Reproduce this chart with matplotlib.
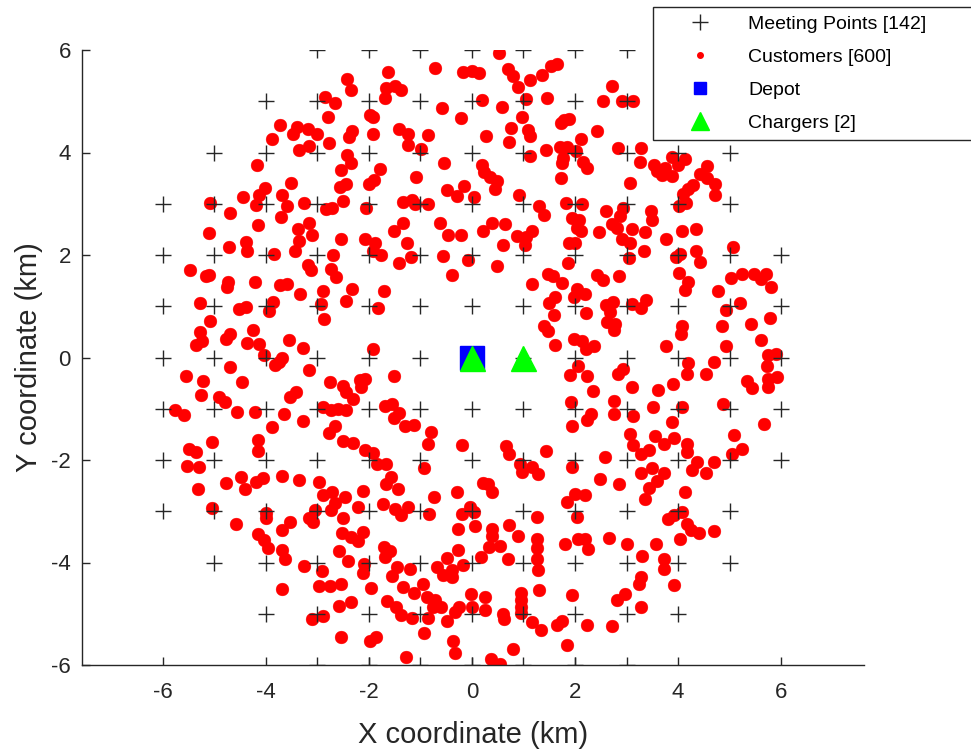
import matplotlib
matplotlib.use("Agg")
import matplotlib.pyplot as plt
from matplotlib.lines import Line2D

plt.rcParams['font.family'] = ['Liberation Sans', 'DejaVu Sans']
plt.rcParams['axes.unicode_minus'] = False

# ---------------- data ----------------
# meeting points: x positions of the grid for each row y
mp_rows_y = [6, 5, 4, 3, 2, 1, 0, -1, -2, -3, -4, -5, -6]
mp_rows_x = [
    [-3, -2, -1, 0, 1, 2, 3],
    [-4, -3, -2, -1, 0, 1, 2, 3, 4],
    [-5, -4, -3, -2, -1, 0, 1, 2, 3, 4, 5],
    [-6, -5, -4, -3, -2, -1, 0, 1, 2, 3, 4, 5],
    [-6, -5, -4, -3, -2, -1, 0, 1, 2, 3, 4, 5, 6],
    [-6, -5, -4, -3, -2, -1, 0, 1, 2, 3, 4, 5, 6],
    [-6, -5, -4, -3, -2, -1, 1, 2, 3, 4, 5, 6],
    [-6, -5, -4, -3, -2, -1, 0, 1, 2, 3, 4, 5, 6],
    [-6, -5, -4, -3, -2, -1, 0, 1, 2, 3, 4, 5, 6],
    [-6, -5, -4, -3, -2, -1, 0, 1, 2, 3, 4, 5],
    [-5, -4, -3, -2, -1, 0, 1, 2, 3, 4, 5],
    [-4, -3, -2, -1, 0, 1, 2, 3, 4],
    [-3, -2, -1, 0, 1, 2, 3],
]

customers = [
    # upper-left
    (-3.73,4.54),(-3.39,4.49),(-3.47,4.37),(-3.88,4.27),(-3.35,4.05),(-4.18,3.76),(-3.52,3.40),(-4.02,3.30),
    (-4.14,3.17),(-4.45,3.14),(-3.68,3.17),(-5.09,3.02),(-4.20,2.98),(-3.60,2.96),(-3.26,3.01),(-4.70,2.81),
    (-3.70,2.75),(-4.15,2.58),(-5.10,2.42),(-3.37,2.50),(-3.35,2.27),(-4.38,2.26),(-4.71,2.15),
    # upper centre-left
    (-0.72,5.64),(-0.17,5.58),(-2.43,5.43),(-1.63,5.57),(-2.34,5.22),(-1.66,5.25),(-1.50,5.30),(-1.37,5.22),
    (-1.68,5.06),(-2.86,5.08),(-2.66,4.97),(-0.58,4.87),(-0.21,4.68),(-1.97,4.73),(-1.92,4.69),(-2.79,4.69),
    (-3.18,4.45),(-3.00,4.36),(-3.17,4.13),(-2.77,4.19),(-2.32,4.41),(-2.39,4.31),(-1.92,4.36),(-1.42,4.45),
    (-1.25,4.36),(-1.25,4.15),(-0.86,4.34),(-0.98,4.06),(-2.43,3.95),(-2.35,3.79),(-2.55,3.66),(-1.79,3.68),
    (-1.90,3.46),(-1.99,3.38),(-2.45,3.39),(-2.56,3.33),(-1.09,3.53),(-0.54,3.79),(-0.49,3.26),(-0.30,3.16),
    (-0.15,3.35),(-2.84,2.90),(-2.71,2.91),(-2.50,3.05),(-2.05,2.91),(-1.33,3.04),(-1.17,3.07),(-1.11,2.99),
    (-0.85,2.99),(-3.17,2.63),(-3.11,2.39),(-1.33,2.62),(-1.51,2.47),(-0.62,2.63),(-0.46,2.40),(-0.21,2.40),
    (-2.55,2.31),(-2.08,2.32),(-1.88,2.23),(-1.27,2.23),
    # upper centre-right
    (0.52,5.95),(0.01,5.60),(0.14,5.56),(0.70,5.62),(0.79,5.49),(0.89,5.27),(1.13,5.42),(1.35,5.51),
    (1.53,5.69),(1.66,5.73),(2.71,5.30),(0.20,5.02),(0.59,4.89),(1.05,5.04),(1.46,5.06),(2.54,5.01),
    (2.91,5.01),(3.13,5.01),(0.98,4.70),(1.72,4.57),(1.79,4.63),(1.89,4.65),(0.75,4.47),(1.08,4.44),
    (1.13,4.33),(0.27,4.32),(0.71,4.20),(2.42,4.41),(2.12,4.26),(1.44,4.05),(1.71,4.11),(1.84,4.10),
    (2.02,4.03),(1.13,3.93),(1.77,3.89),(1.74,3.79),(2.16,3.82),(2.23,3.69),(2.84,4.08),(0.19,3.76),
    (0.23,3.61),(0.35,3.53),(0.48,3.45),(0.45,3.28),(1.72,3.50),(3.06,3.41),(0.04,3.14),(0.92,3.18),
    (1.30,2.96),(1.39,2.78),(1.83,3.01),(2.13,2.99),(2.61,2.86),(2.93,2.92),(2.87,2.77),(2.71,2.60),
    (2.81,2.52),(2.47,2.44),(3.10,2.50),(2.91,2.31),(1.94,2.72),(2.08,2.68),(2.03,2.52),(2.11,2.46),
    (0.38,2.63),(0.22,2.47),(0.64,2.60),(0.87,2.38),(1.05,2.36),(1.16,2.47),(0.60,2.20),(1.03,2.20),
    (1.89,2.23),(2.00,2.24),(3.07,2.23),
    # upper-right
    (3.28,4.08),(3.26,3.82),(3.88,3.92),(3.99,3.76),(4.14,3.87),(3.53,3.76),(3.59,3.63),(3.75,3.69),
    (3.68,3.56),(3.88,3.54),(4.56,3.74),(4.43,3.59),(4.56,3.50),(4.72,3.39),(4.30,3.37),(4.20,3.28),
    (4.10,3.20),(4.71,3.17),(4.15,3.02),(4.01,2.96),(3.47,2.86),(3.49,2.68),(3.36,2.44),(4.07,2.47),
    (4.34,2.50),(3.76,2.31),(5.07,2.16),
    # middle-left
    (-4.36,2.07),(-3.84,2.01),(-3.44,2.07),(-5.48,1.71),(-5.17,1.59),(-5.10,1.61),(-4.73,1.48),(-4.75,1.38),
    (-4.21,1.48),(-3.73,1.42),(-3.60,1.43),(-3.34,1.23),(-5.28,1.07),(-4.52,0.94),(-4.38,0.99),(-3.87,1.09),
    (-3.94,0.91),(-5.09,0.72),(-5.28,0.50),(-5.25,0.33),(-5.36,0.24),(-4.78,0.37),(-4.69,0.46),(-4.26,0.54),
    (-4.36,0.28),(-4.13,0.26),(-3.55,0.34),(-3.28,0.19),(-4.04,0.04),(-3.68,0.00),(-3.74,-0.08),(-3.83,-0.15),
    (-4.70,-0.18),(-5.55,-0.37),(-5.22,-0.46),(-4.47,-0.48),(-5.26,-0.74),(-4.91,-0.78),(-4.80,-0.87),(-3.53,-0.78),
    (-3.42,-0.68),(-5.77,-1.02),(-5.59,-1.12),(-4.56,-1.07),(-4.21,-1.07),(-3.65,-1.11),(-3.28,-1.24),(-3.88,-1.35),
    (-5.04,-1.64),(-5.49,-1.79),(-5.35,-1.85),(-4.15,-1.61),(-4.15,-1.82),
    # middle centre-left
    (-2.69,2.00),(-1.92,2.07),(-1.77,2.00),(-3.18,1.81),(-3.13,1.71),(-2.73,1.72),(-2.63,1.58),(-1.41,1.84),
    (-1.18,1.97),(-0.56,1.98),(-0.39,1.61),(-0.08,1.90),(-2.90,1.30),(-2.32,1.34),(-2.45,1.11),(-1.71,1.29),
    (-2.93,1.04),(-1.82,0.96),(-2.87,0.76),(-1.92,0.16),(-3.17,-0.24),(-2.76,-0.47),(-2.51,-0.56),(-2.45,-0.67),
    (-2.30,-0.80),(-2.18,-0.44),(-2.07,-0.41),(-2.16,-0.57),(-1.52,-0.36),(-2.89,-0.97),(-2.73,-1.02),(-2.60,-1.01),
    (-2.45,-1.02),(-1.69,-0.95),(-1.56,-0.91),(-1.42,-1.09),(-1.51,-1.19),(-1.30,-1.33),(-1.12,-1.32),(-2.65,-1.34),
    (-2.77,-1.48),(-0.80,-1.46),(-0.85,-1.68),(-0.20,-1.71),(-2.50,-1.63),(-2.30,-1.66),(-2.08,-1.80),(-1.92,-1.87),
    # middle centre-right
    (0.48,1.79),(1.16,1.43),(1.47,1.63),(1.57,1.59),(1.74,1.46),(1.86,1.84),(2.42,1.61),(2.55,1.51),
    (2.86,1.59),(3.04,1.95),(1.61,1.19),(1.50,1.06),(2.03,1.33),(1.99,1.19),(2.19,1.24),(2.21,0.86),
    (1.60,0.83),(2.60,1.03),(2.73,1.09),(2.67,0.89),(3.10,1.04),(2.63,0.70),(2.78,0.65),(2.76,0.54),
    (1.40,0.61),(1.48,0.52),(1.62,0.24),(1.99,0.37),(2.13,0.33),(2.21,0.17),(2.36,0.23),(2.06,-0.17),
    (1.90,-0.34),(2.24,-0.37),(2.83,-0.32),(2.94,-0.22),(3.10,-0.58),(2.34,-0.65),(1.93,-0.86),(2.76,-0.85),
    (2.32,-1.11),(2.23,-1.21),(2.76,-1.11),(1.95,-1.34),(3.13,-1.14),(3.07,-1.50),(3.13,-1.71),(0.67,-1.73),
    (0.72,-1.88),(1.44,-1.82),(2.58,-1.94),
    # middle-right
    (3.33,2.07),(3.97,1.97),(4.04,2.02),(4.35,2.07),(4.43,1.87),(4.01,1.64),(4.20,1.48),(4.14,1.32),
    (4.77,1.30),(5.02,1.55),(5.24,1.63),(5.48,1.63),(5.61,1.53),(5.71,1.63),(5.81,1.38),(3.37,1.12),
    (3.29,0.96),(4.93,0.93),(5.20,1.06),(5.79,0.78),(4.07,0.62),(4.06,0.45),(4.86,0.62),(5.41,0.65),
    (5.61,0.34),(3.76,0.23),(4.93,0.23),(4.19,-0.11),(4.17,-0.32),(4.70,-0.08),(4.54,-0.33),(5.75,0.04),
    (5.90,0.06),(5.72,-0.17),(5.74,-0.41),(5.92,-0.39),(5.33,-0.46),(5.44,-0.59),(5.74,-0.57),(3.91,-0.52),
    (3.61,-0.63),(4.07,-0.96),(3.52,-0.97),(4.88,-0.91),(3.89,-1.25),(5.66,-1.30),(3.55,-1.53),(3.93,-1.58),
    (3.73,-1.69),(4.17,-1.68),(4.17,-1.85),(5.09,-1.51),(5.25,-1.79),(5.04,-1.88),(3.44,-1.80),(3.29,-1.88),
    # lower-left
    (-5.53,-2.12),(-5.30,-2.13),(-5.31,-2.57),(-4.78,-2.44),(-4.49,-2.33),(-4.41,-2.57),(-4.19,-2.42),(-4.05,-2.36),
    (-3.68,-2.31),(-3.35,-2.39),(-5.04,-2.94),(-4.58,-3.24),(-4.00,-3.03),(-4.00,-3.14),(-3.53,-3.20),(-3.68,-3.37),
    (-4.15,-3.44),(-4.04,-3.57),(-3.95,-3.72),(-3.68,-3.76),(-3.62,-3.94),(-3.26,-4.06),(-3.68,-4.52),
    # lower centre-left
    (-1.85,-2.07),(-1.66,-2.07),(-0.93,-2.16),(-2.97,-2.42),(-1.67,-2.46),(-1.57,-2.33),(-1.44,-2.57),(-2.11,-2.60),
    (-2.89,-2.68),(-2.71,-2.62),(-2.47,-2.73),(-2.65,-2.83),(-2.73,-2.98),(-2.21,-2.92),(-1.72,-2.86),(-1.50,-2.96),
    (-1.38,-3.07),(-1.24,-2.91),(-0.74,-2.73),(-0.84,-3.05),(-0.30,-2.62),(-3.17,-3.14),(-3.05,-2.98),(-3.08,-3.20),
    (-2.50,-3.14),(-0.20,-3.06),(-0.28,-3.35),(-2.52,-3.42),(-2.34,-3.51),(-2.22,-3.59),(-2.11,-3.40),(-2.58,-3.77),
    (-2.41,-3.98),(-2.91,-4.17),(-1.71,-3.70),(-1.59,-3.77),(-1.69,-3.89),(-2.09,-4.03),(-2.11,-4.21),(-1.46,-4.09),
    (-1.55,-4.26),(-1.20,-4.13),(-1.33,-4.47),(-1.12,-4.59),(-0.96,-4.42),(-2.97,-4.45),(-2.76,-4.45),(-2.54,-4.42),
    (-1.96,-4.49),(-0.48,-3.92),(-0.28,-3.76),(-0.67,-4.09),(-0.56,-4.24),(-0.39,-4.15),(-0.39,-4.28),(-0.17,-4.05),
    (-2.58,-4.84),(-2.34,-4.78),(-3.10,-5.11),(-2.89,-5.04),(-1.64,-4.75),(-1.48,-4.86),(-1.37,-5.02),(-1.16,-5.09),
    (-0.88,-4.68),(-0.71,-4.73),(-0.75,-4.86),(-0.60,-4.86),(-0.85,-5.09),(-0.49,-5.14),(-0.33,-4.96),(-0.25,-4.86),
    (-2.54,-5.45),(-1.98,-5.53),(-1.87,-5.45),(-0.93,-5.38),(-0.36,-5.53),(-0.33,-5.77),(-1.28,-5.84),
    # lower centre-right
    (0.93,-2.08),(0.98,-2.23),(1.16,-2.13),(1.29,-2.27),(1.94,-2.14),(0.22,-2.44),(0.32,-2.47),(0.38,-2.63),
    (2.49,-2.37),(2.85,-2.47),(1.85,-2.81),(2.00,-2.66),(2.19,-2.68),(-0.04,-2.91),(0.03,-3.01),(0.06,-3.29),
    (1.27,-3.11),(2.03,-3.11),(0.72,-3.27),(0.38,-3.35),(0.38,-3.48),(0.89,-3.48),(0.54,-3.67),(0.34,-3.70),
    (0.17,-3.89),(0.69,-3.94),(1.27,-3.54),(1.27,-3.72),(1.26,-3.94),(1.29,-4.15),(1.81,-3.64),(2.05,-3.54),
    (2.19,-3.54),(2.26,-3.74),(2.66,-3.53),(3.00,-3.63),(-0.01,-4.61),(0.01,-4.86),(0.25,-4.68),(0.25,-4.93),
    (0.96,-4.59),(0.96,-4.73),(0.96,-4.86),(0.96,-4.98),(0.61,-5.00),(0.62,-5.11),(1.31,-4.54),(1.95,-4.63),
    (2.81,-4.73),(2.98,-4.61),(1.16,-5.17),(1.34,-5.32),(1.66,-5.22),(1.74,-5.14),(2.24,-5.21),(2.71,-5.24),
    (1.84,-5.61),(0.79,-5.69),(0.36,-5.88),(0.54,-5.98),
    # lower-right
    (4.36,-2.03),(4.70,-2.03),(3.29,-2.25),(3.50,-2.16),(3.73,-2.26),(4.27,-2.20),(4.54,-2.25),(3.59,-2.40),
    (3.44,-2.55),(3.35,-2.76),(4.14,-2.62),(3.81,-3.15),(3.93,-3.07),(4.07,-3.02),(4.17,-3.24),(4.25,-3.37),
    (4.41,-3.43),(4.69,-3.38),(4.04,-3.55),(3.57,-3.64),(3.31,-3.87),(3.73,-3.93),(3.73,-4.13),(3.29,-4.29),
    (3.24,-4.42),(3.93,-4.44),(3.29,-4.86),
]
cust_x = [p[0] for p in customers]
cust_y = [p[1] for p in customers]

depot_x, depot_y = [0], [0]
charger_x = [0, 1]
charger_y = [0, 0]

legend_labels = ['Meeting Points [142]', 'Customers [600]', 'Depot', 'Chargers [2]']

# ---------------- figure ----------------
fig = plt.figure(figsize=(9.71, 7.51), dpi=100)
ax = fig.add_axes([82/971, 86/751, (864-82)/971, (665-50)/751])

mp_x = [x for xs, y in zip(mp_rows_x, mp_rows_y) for x in xs]
mp_y = [y for xs, y in zip(mp_rows_x, mp_rows_y) for x in xs]

ax.plot(cust_x, cust_y, linestyle='none', marker='o', markersize=9.2,
        markerfacecolor='#ff0000', markeredgecolor='#ff0000', markeredgewidth=0.3, zorder=2)
ax.plot(mp_x, mp_y, linestyle='none', marker='+', markersize=11.5,
        color='#262626', markeredgewidth=1.0, zorder=3)
ax.plot(depot_x, depot_y, linestyle='none', marker='s', markersize=17,
        color='#0000ff', zorder=4)
ax.plot(charger_x, charger_y, linestyle='none', marker='^', markersize=18,
        color='#00ff00', zorder=5)

ax.set_xlim(-7.57, 7.61)
ax.set_ylim(-6, 6)
ax.set_xticks([-6, -4, -2, 0, 2, 4, 6])
ax.set_yticks([-6, -4, -2, 0, 2, 4, 6])
ax.tick_params(axis='both', direction='in', length=6, width=1.0, labelsize=16,
               colors='#262626', labelcolor='#262626')
ax.tick_params(axis='x', pad=12)
ax.tick_params(axis='y', pad=8)
for s in ['top', 'right']:
    ax.spines[s].set_visible(False)
for s in ['left', 'bottom']:
    ax.spines[s].set_color('#262626')
    ax.spines[s].set_linewidth(1.0)
ax.set_xlabel('X coordinate (km)', fontsize=21, color='#262626', labelpad=13)
ax.set_ylabel('Y coordinate (km)', fontsize=21, color='#262626', labelpad=6)

handles = [
    Line2D([], [], linestyle='none', marker='+', markersize=11.5, color='#262626', markeredgewidth=1.0),
    Line2D([], [], linestyle='none', marker='o', markersize=4, color='#ff0000'),
    Line2D([], [], linestyle='none', marker='s', markersize=9, color='#0000ff'),
    Line2D([], [], linestyle='none', marker='^', markersize=13, color='#00ff00'),
]
leg = fig.legend(handles, legend_labels, loc='lower left',
                 bbox_to_anchor=(653/971, (751-140)/751, 0.36, 0.2), bbox_transform=fig.transFigure,
                 mode='expand',
                 fontsize=14, frameon=True, fancybox=False, shadow=False, framealpha=1,
                 edgecolor='#262626', borderpad=0.4, labelspacing=0.8,
                 handlelength=4.0, handletextpad=0.5, borderaxespad=0)
leg.get_frame().set_linewidth(1.0)

fig.savefig('out.png', dpi=100)
